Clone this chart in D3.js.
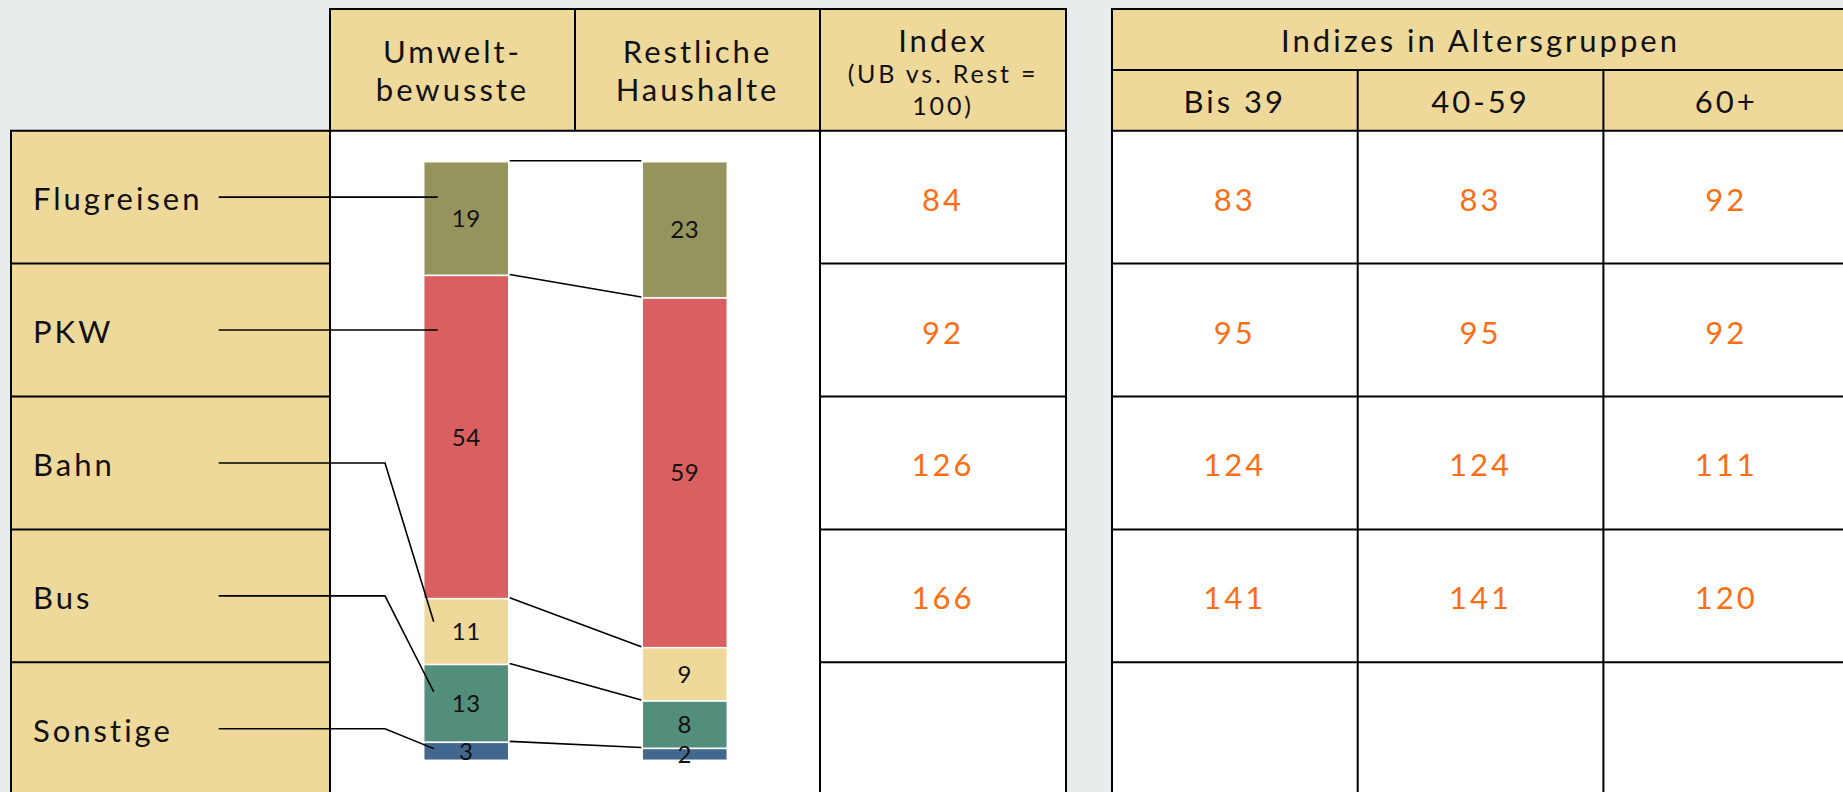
<!DOCTYPE html>
<html><head><meta charset="utf-8">
<script src="https://cdn.jsdelivr.net/npm/d3@7"></script>
<style>
html,body{margin:0;padding:0;background:#e8ecec;overflow:hidden;}
svg{display:block;}
text{font-family:Lato,"Liberation Sans",sans-serif;font-weight:400;}
</style></head><body>
<svg id="chart" width="1843" height="792"></svg>
<script>
// ---- data ----
const categories = ["Flugreisen", "PKW", "Bahn", "Bus", "Sonstige"];
const groupKeys = ["ub", "rest"];
const groupLabels = [["Umwelt-", "bewusste"], ["Restliche", "Haushalte"]];
const umweltbewusste = [19, 54, 11, 13, 3];
const restlicheHaushalte = [23, 59, 9, 8, 2];
const indexHeader = ["Index", "(UB vs. Rest =", "100)"];
const indexUB = [84, 92, 126, 166, null];
const ageTitle = "Indizes in Altersgruppen";
const ageGroups = ["Bis 39", "40-59", "60+"];
const indexBis39 = [83, 95, 124, 141, null];
const index4059 = [83, 95, 124, 141, null];
const index60plus = [92, 92, 111, 120, null];
const segmentColors = ["#95945c", "#da5f60", "#eed99b", "#528e7b", "#426890"];

// ---- layout ----
const W = 1843, H = 792;
const headerFill = "#eed99b", lineCol = "#000", orange = "#fa6e14", ink = "#111";
const FS = 31, FS2 = 24, LS = "3px";
const svg = d3.select("#chart");

const topY = 9, headY = 130.7, rowH = 132.9;
const rowScale = d3.scaleBand().domain(categories).range([headY, headY + rowH * categories.length]);
const catX0 = 11, chartX0 = 330, chartX1 = 820, idxX1 = 1066, ageX0 = 1112, ageColW = 245.7;
const colScale = d3.scaleBand().domain(groupKeys).range([chartX0, chartX1]);
const ageScale = d3.scaleBand().domain(ageGroups).range([ageX0, ageX0 + ageColW * ageGroups.length]);
const barScale = d3.scaleBand().domain(groupKeys).range([423.7, 727.3]).paddingInner(0.611);
const yScale = d3.scaleLinear().domain([0, 1]).range([161.7, 760.3]);
const color = d3.scaleOrdinal().domain(categories).range(segmentColors);

// ---- backgrounds ----
svg.append("rect").attr("width", W).attr("height", H).attr("fill", "#e8ecec");
svg.append("rect").attr("x", chartX0).attr("y", topY).attr("width", idxX1 - chartX0).attr("height", headY - topY).attr("fill", headerFill);
svg.append("rect").attr("x", catX0).attr("y", headY).attr("width", chartX0 - catX0).attr("height", H - headY + 10).attr("fill", headerFill);
svg.append("rect").attr("x", chartX0).attr("y", headY).attr("width", idxX1 - chartX0).attr("height", H - headY + 10).attr("fill", "#fff");
const ageX1 = ageScale.range()[1];
svg.append("rect").attr("x", ageX0).attr("y", topY).attr("width", ageX1 - ageX0).attr("height", headY - topY).attr("fill", headerFill);
svg.append("rect").attr("x", ageX0).attr("y", headY).attr("width", ageX1 - ageX0).attr("height", H - headY + 10).attr("fill", "#fff");

// ---- stacked bars ----
const rows = groupKeys.map((g, gi) => {
  const o = {group: g};
  const src = gi === 0 ? umweltbewusste : restlicheHaushalte;
  categories.forEach((c, i) => o[c] = src[i]);
  return o;
});
const series = d3.stack().keys(categories).offset(d3.stackOffsetExpand)(rows);
const bw = barScale.bandwidth();

const segG = svg.append("g");
series.forEach(s => {
  segG.selectAll(null).data(s).join("rect")
    .attr("x", d => barScale(d.data.group))
    .attr("y", d => yScale(d[0]))
    .attr("width", bw)
    .attr("height", d => yScale(d[1]) - yScale(d[0]))
    .attr("fill", color(s.key))
    .attr("stroke", "#fff").attr("stroke-width", 1.5);
});
// connectors between bars
const connG = svg.append("g").attr("stroke", "#000").attr("stroke-width", 1.6).attr("fill", "none");
series.forEach(s => {
  connG.append("line")
    .attr("x1", barScale("ub") + bw + 1).attr("y1", yScale(s[0][0]) - 1)
    .attr("x2", barScale("rest") - 1).attr("y2", yScale(s[1][0]) - 1);
});
// segment labels
series.forEach(s => {
  svg.append("g").selectAll(null).data(s).join("text")
    .attr("x", d => barScale(d.data.group) + bw / 2)
    .attr("y", d => (yScale(d[0]) + yScale(d[1])) / 2 + 8.5)
    .attr("text-anchor", "middle")
    .attr("font-size", FS2).attr("letter-spacing", "0.5px").attr("fill", ink)
    .text(d => d.data[s.key]);
});

// ---- leader lines ----
const leadX0 = 218.7, ubX = barScale("ub");
const leadG = svg.append("g").attr("stroke", "#000").attr("stroke-width", 1.6).attr("fill", "none");
series.forEach(s => {
  const seg = s[0];
  const cy = rowScale(s.key) + rowScale.bandwidth() / 2;
  const y0 = yScale(seg[0]), y1 = yScale(seg[1]);
  let p;
  if (cy > y0 && cy < y1) {
    p = `M${leadX0},${cy}H${ubX + 14}`;
  } else {
    const ye = (y0 + y1) / 2 - 0.15 * (y1 - y0);
    p = `M${leadX0},${cy}H${ubX - 38.7}L${ubX + 10},${ye}`;
  }
  leadG.append("path").attr("d", p);
});

// ---- category labels ----
svg.append("g").selectAll(null).data(categories).join("text")
  .attr("x", 33).attr("y", d => rowScale(d) + rowScale.bandwidth() / 2 + 13)
  .attr("font-size", FS).attr("letter-spacing", LS).attr("fill", ink)
  .text(d => d);

// ---- header texts ----
groupKeys.forEach((g, gi) => {
  const cx = colScale(g) + colScale.bandwidth() / 2;
  groupLabels[gi].forEach((t, li) => {
    svg.append("text").attr("x", cx).attr("y", 63.3 + li * 37.4)
      .attr("text-anchor", "middle").attr("font-size", FS).attr("letter-spacing", LS).attr("fill", ink).text(t);
  });
});
const idxCx = (chartX1 + idxX1) / 2;
svg.append("text").attr("x", idxCx).attr("y", 51.7).attr("text-anchor", "middle")
  .attr("font-size", FS).attr("letter-spacing", LS).attr("fill", ink).text(indexHeader[0]);
svg.append("text").attr("x", idxCx).attr("y", 82.7).attr("text-anchor", "middle")
  .attr("font-size", 25).attr("letter-spacing", "2.8px").attr("fill", ink).text(indexHeader[1]);
svg.append("text").attr("x", idxCx).attr("y", 115).attr("text-anchor", "middle")
  .attr("font-size", 25).attr("letter-spacing", "2.8px").attr("fill", ink).text(indexHeader[2]);
svg.append("text").attr("x", (ageX0 + ageX1) / 2).attr("y", 51.7).attr("text-anchor", "middle")
  .attr("font-size", FS).attr("letter-spacing", LS).attr("fill", ink).text(ageTitle);
svg.append("g").selectAll(null).data(ageGroups).join("text")
  .attr("x", d => ageScale(d) + ageScale.bandwidth() / 2).attr("y", 113.3)
  .attr("text-anchor", "middle").attr("font-size", FS).attr("letter-spacing", LS).attr("fill", ink)
  .text(d => d);

// ---- index values ----
const valText = (cx, vals) => svg.append("g").selectAll(null).data(vals.map((v, i) => ({v, c: categories[i]})).filter(d => d.v != null))
  .join("text").attr("x", cx).attr("y", d => rowScale(d.c) + rowScale.bandwidth() / 2 + 13.5)
  .attr("text-anchor", "middle").attr("font-size", FS).attr("letter-spacing", LS).attr("fill", orange)
  .text(d => d.v);
valText(idxCx, indexUB);
[indexBis39, index4059, index60plus].forEach((vals, i) => valText(ageScale(ageGroups[i]) + ageScale.bandwidth() / 2, vals));

// ---- grid lines ----
const gl = svg.append("g").attr("stroke", lineCol).attr("stroke-width", 2).attr("fill", "none");
const hl = (x0, x1, y) => gl.append("line").attr("x1", x0).attr("x2", x1).attr("y1", y).attr("y2", y);
const vl = (x, y0, y1) => gl.append("line").attr("x1", x).attr("x2", x).attr("y1", y0).attr("y2", y1);
hl(chartX0 - 1, idxX1 + 1, topY);
hl(catX0 - 1, idxX1 + 1, headY);
[chartX0, colScale("rest"), chartX1, idxX1].forEach(x => vl(x, topY, x === colScale("rest") ? headY : H + 5));
vl(catX0, headY, H + 5);
categories.slice(1).forEach(c => { hl(catX0, chartX0, rowScale(c)); hl(chartX1, idxX1, rowScale(c)); });
hl(ageX0 - 1, ageX1 + 1, topY);
hl(ageX0, ageX1, 70);
hl(ageX0, ageX1, headY);
vl(ageX0, topY, H + 5); vl(ageX1, topY, H + 5);
ageGroups.slice(1).forEach(g => vl(ageScale(g), 70, H + 5));
categories.slice(1).forEach(c => hl(ageX0, ageX1, rowScale(c)));
</script>
</body></html>
